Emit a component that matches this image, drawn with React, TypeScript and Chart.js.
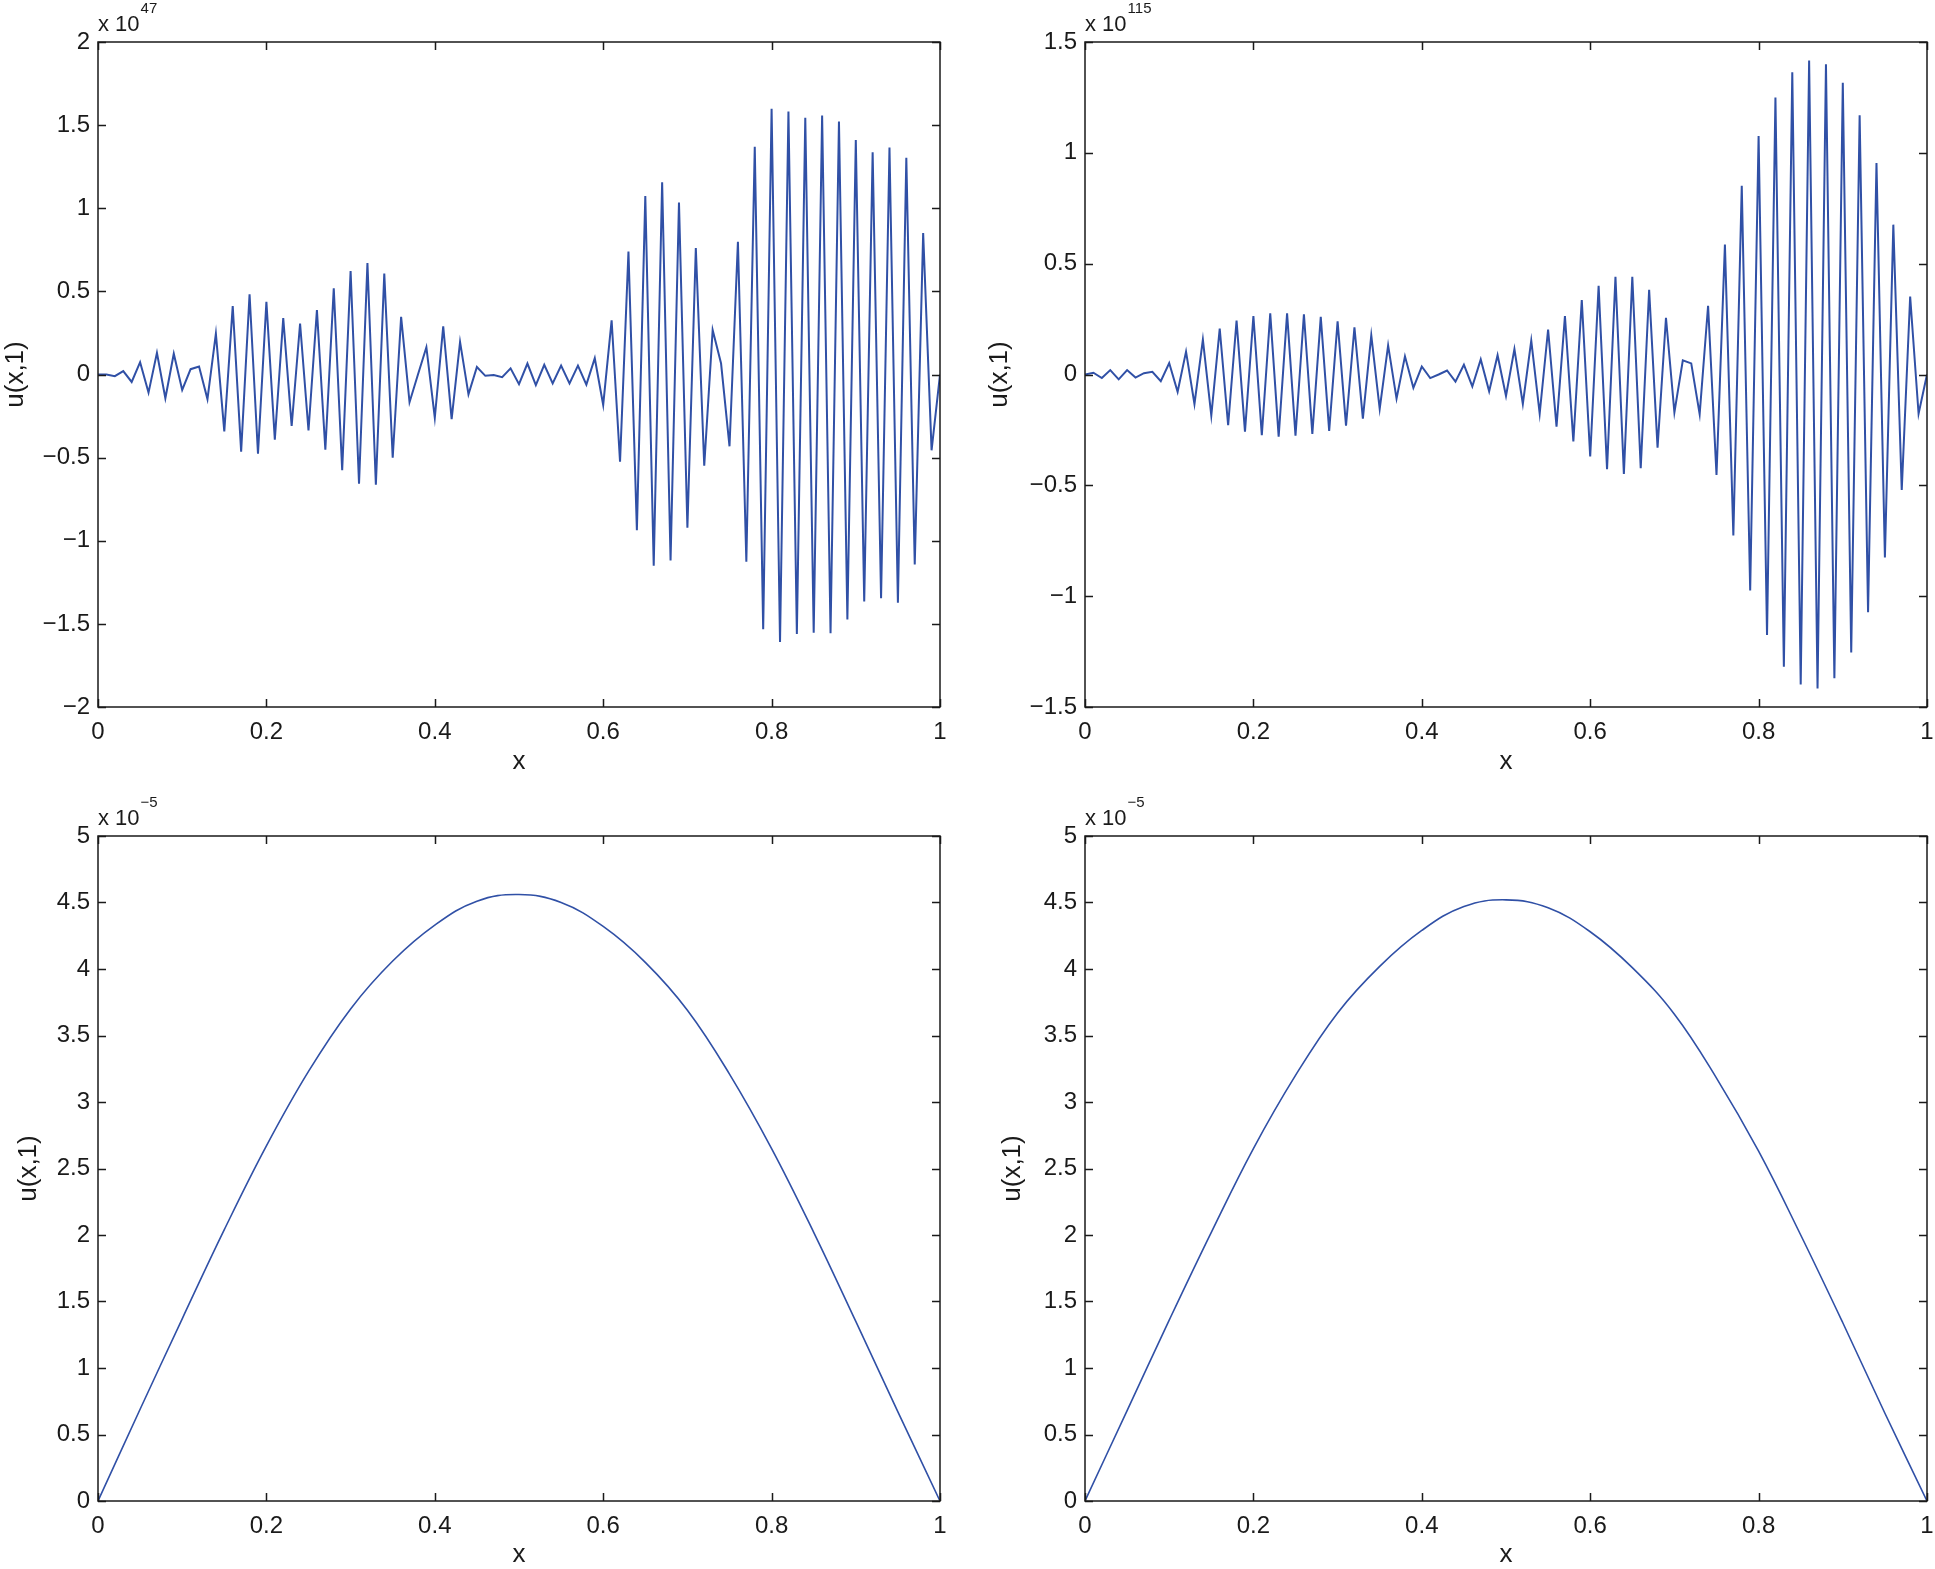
import React, { useEffect, useRef } from 'react';
import { Chart, registerables } from 'chart.js';

Chart.register(...registerables);

// ---------- data ----------
const xCoarse = [
  0, 0.01, 0.02, 0.03, 0.04, 0.05, 0.06, 0.07, 0.08, 0.09,
  0.1, 0.11, 0.12, 0.13, 0.14, 0.15, 0.16, 0.17, 0.18, 0.19,
  0.2, 0.21, 0.22, 0.23, 0.24, 0.25, 0.26, 0.27, 0.28, 0.29,
  0.3, 0.31, 0.32, 0.33, 0.34, 0.35, 0.36, 0.37, 0.38, 0.39,
  0.4, 0.41, 0.42, 0.43, 0.44, 0.45, 0.46, 0.47, 0.48, 0.49,
  0.5, 0.51, 0.52, 0.53, 0.54, 0.55, 0.56, 0.57, 0.58, 0.59,
  0.6, 0.61, 0.62, 0.63, 0.64, 0.65, 0.66, 0.67, 0.68, 0.69,
  0.7, 0.71, 0.72, 0.73, 0.74, 0.75, 0.76, 0.77, 0.78, 0.79,
  0.8, 0.81, 0.82, 0.83, 0.84, 0.85, 0.86, 0.87, 0.88, 0.89,
  0.9, 0.91, 0.92, 0.93, 0.94, 0.95, 0.96, 0.97, 0.98, 0.99,
  1,
];

// u(x,1) in units of 1e47
const uTopLeft = [
  0, 0, -0.01, 0.02, -0.045, 0.074, -0.109, 0.13, -0.143, 0.125,
  -0.093, 0.032, 0.048, -0.148, 0.246, -0.342, 0.411, -0.464, 0.482, -0.477,
  0.437, -0.392, 0.339, -0.31, 0.307, -0.337, 0.387, -0.453, 0.519, -0.575,
  0.623, -0.657, 0.671, -0.663, 0.607, -0.501, 0.347, -0.167, 0.0, 0.164,
  -0.26, 0.29, -0.268, 0.196, -0.119, 0.045, -0.008, -0.003, -0.016, 0.037,
  -0.058, 0.066, -0.064, 0.058, -0.053, 0.053, -0.053, 0.053, -0.061, 0.098,
  -0.183, 0.326, -0.525, 0.739, -0.936, 1.073, -1.15, 1.156, -1.118, 1.034,
  -0.922, 0.761, -0.549, 0.268, 0.066, -0.432, 0.798, -1.126, 1.37, -1.532,
  1.598, -1.609, 1.582, -1.561, 1.545, -1.553, 1.558, -1.556, 1.521, -1.474,
  1.41, -1.365, 1.336, -1.346, 1.365, -1.373, 1.304, -1.142, 0.851, -0.456,
  0,
];

// u(x,1) in units of 1e115
const uTopRight = [
  0, 0.008, -0.016, 0.02, -0.022, 0.02, -0.014, 0.006, 0.012, -0.03,
  0.052, -0.078, 0.103, -0.133, 0.157, -0.185, 0.207, -0.229, 0.243, -0.258,
  0.264, -0.274, 0.276, -0.28, 0.276, -0.276, 0.272, -0.268, 0.26, -0.254,
  0.24, -0.231, 0.213, -0.199, 0.177, -0.155, 0.131, -0.109, 0.082, -0.06,
  0.036, -0.016, 0.0, 0.018, -0.032, 0.044, -0.054, 0.068, -0.076, 0.087,
  -0.097, 0.115, -0.133, 0.153, -0.177, 0.203, -0.235, 0.264, -0.302, 0.336,
  -0.37, 0.4, -0.427, 0.441, -0.449, 0.441, -0.423, 0.382, -0.33, 0.256,
  -0.171, 0.064, 0.05, -0.179, 0.31, -0.453, 0.586, -0.726, 0.851, -0.974,
  1.076, -1.175, 1.25, -1.318, 1.364, -1.398, 1.416, -1.417, 1.4, -1.37,
  1.316, -1.254, 1.169, -1.072, 0.954, -0.825, 0.676, -0.521, 0.352, -0.177,
  0,
];

const xFine = [
  0, 0.05, 0.1, 0.15, 0.2, 0.25, 0.3, 0.35, 0.4, 0.45,
  0.5, 0.55, 0.6, 0.65, 0.7, 0.75, 0.8, 0.85, 0.9, 0.95, 1,
];

// u(x,1) in units of 1e-5
const uBottomLeft = [
  0, 0.69, 1.37, 2.04, 2.67, 3.23, 3.7, 4.06, 4.33, 4.51,
  4.56, 4.5, 4.32, 4.05, 3.69, 3.21, 2.65, 2.02, 1.35, 0.67, 0,
];
const uBottomRight = [
  0, 0.68, 1.36, 2.02, 2.65, 3.2, 3.67, 4.02, 4.29, 4.47,
  4.52, 4.46, 4.28, 4.01, 3.66, 3.18, 2.63, 2.0, 1.34, 0.66, 0,
];

const exponentLabels = ['47', '115', '\u22125', '\u22125'];
const xAxisLabel = 'x';
const yAxisLabel = 'u(x,1)';

// ---------- styling ----------
const FONT = "'Liberation Sans', Arial, Helvetica, sans-serif";
const INK = '#1a1a1a';
const LINE = '#3050a6';

type Panel = {
  left: number; top: number; width: number; height: number;
  pl: number; pt: number; pr: number; pb: number; wy: number; hx: number;
  yMin: number; yMax: number; exp: string;
  xs: number[]; ys: number[]; lineWidth: number; smooth: boolean; xTitlePad: number;
};

const panels: Panel[] = [
  { left: 0, top: 0, width: 970, height: 800, pl: 0, pt: 42, pr: 30, pb: 13, wy: 98, hx: 80,
    yMin: -2, yMax: 2, exp: exponentLabels[0], xs: xCoarse, ys: uTopLeft, lineWidth: 2, smooth: false, xTitlePad: 9.5 },
  { left: 970, top: 0, width: 965, height: 800, pl: 14, pt: 42, pr: 8, pb: 13, wy: 101, hx: 80,
    yMin: -1.5, yMax: 1.5, exp: exponentLabels[1], xs: xCoarse, ys: uTopRight, lineWidth: 2, smooth: false, xTitlePad: 9.5 },
  { left: 0, top: 790, width: 970, height: 781, pl: 13, pt: 46, pr: 30, pb: 0, wy: 85, hx: 70,
    yMin: 0, yMax: 5, exp: exponentLabels[2], xs: xFine, ys: uBottomLeft, lineWidth: 1.6, smooth: true, xTitlePad: 1 },
  { left: 970, top: 790, width: 965, height: 781, pl: 27, pt: 46, pr: 8, pb: 0, wy: 88, hx: 70,
    yMin: 0, yMax: 5, exp: exponentLabels[3], xs: xFine, ys: uBottomRight, lineWidth: 1.6, smooth: true, xTitlePad: 1 },
];

const fmt = (v: number) => {
  const r = Math.round(v * 1000) / 1000;
  return r < 0 ? '\u2212' + String(-r) : String(r);
};

function makeFramePlugin(exp: string) {
  return {
    id: 'matlabFrame',
    afterDraw(chart: any) {
      const { ctx, chartArea } = chart;
      const { left, top, right, bottom } = chartArea;
      const xs = chart.scales.x;
      const ys = chart.scales.y;
      const tl = 8;
      ctx.save();
      ctx.strokeStyle = INK;
      ctx.lineWidth = 1.5;
      ctx.beginPath();
      xs.ticks.forEach((t: any) => {
        const px = Math.round(xs.getPixelForValue(t.value)) + 0.5;
        ctx.moveTo(px, bottom); ctx.lineTo(px, bottom - tl);
        ctx.moveTo(px, top); ctx.lineTo(px, top + tl);
      });
      ys.ticks.forEach((t: any) => {
        const py = Math.round(ys.getPixelForValue(t.value)) + 0.5;
        ctx.moveTo(left, py); ctx.lineTo(left + tl, py);
        ctx.moveTo(right, py); ctx.lineTo(right - tl, py);
      });
      ctx.stroke();
      ctx.strokeRect(left, top, right - left, bottom - top);
      // exponent label
      ctx.fillStyle = INK;
      ctx.textBaseline = 'alphabetic';
      ctx.textAlign = 'left';
      ctx.font = `22px ${FONT}`;
      const base = 'x 10';
      ctx.fillText(base, left, top - 11.3);
      const w = ctx.measureText(base).width;
      ctx.font = `15px ${FONT}`;
      ctx.fillText(exp, left + w + 1, top - 28.7);
      ctx.restore();
    },
  };
}

function PanelChart({ p }: { p: Panel }) {
  const ref = useRef<HTMLCanvasElement | null>(null);
  useEffect(() => {
    if (!ref.current) return;
    const points = p.xs.map((x, i) => ({ x, y: p.ys[i] }));
    const chart = new Chart(ref.current, {
      type: 'line',
      data: {
        datasets: [{
          data: points,
          borderColor: LINE,
          borderWidth: p.lineWidth,
          pointRadius: 0,
          fill: false,
          tension: p.smooth ? 0.4 : 0,
          cubicInterpolationMode: 'default',
        } as any],
      },
      options: {
        animation: false,
        responsive: false,
        maintainAspectRatio: false,
        events: [],
        layout: { padding: { left: p.pl, top: p.pt, right: p.pr, bottom: p.pb } },
        plugins: { legend: { display: false }, tooltip: { enabled: false }, title: { display: false } },
        scales: {
          x: {
            type: 'linear',
            min: 0,
            max: 1,
            grid: { display: false, drawTicks: false },
            border: { display: false },
            ticks: {
              stepSize: 0.2,
              autoSkip: false,
              maxRotation: 0,
              padding: 11,
              color: INK,
              font: { family: FONT, size: 24 },
              callback: (v: any) => fmt(Number(v)),
            },
            title: {
              display: true,
              text: xAxisLabel,
              color: INK,
              font: { family: FONT, size: 26 },
              padding: { top: 0, bottom: p.xTitlePad },
            },
            afterFit: (s: any) => {
              s.height = p.hx;
              s.paddingLeft = 0; s.paddingRight = 0;
            },
          },
          y: {
            type: 'linear',
            min: p.yMin,
            max: p.yMax,
            grid: { display: false, drawTicks: false },
            border: { display: false },
            ticks: {
              stepSize: 0.5,
              padding: 8,
              color: INK,
              font: { family: FONT, size: 24 },
              callback: (v: any) => fmt(Number(v)),
            },
            title: {
              display: true,
              text: yAxisLabel,
              color: INK,
              font: { family: FONT, size: 26 },
              padding: { top: 0, bottom: 0 },
            },
            afterFit: (s: any) => {
              s.width = p.wy;
              s.paddingTop = 0; s.paddingBottom = 0;
            },
          },
        },
      } as any,
      plugins: [makeFramePlugin(p.exp)],
    });
    return () => chart.destroy();
  }, [p]);
  return (
    <canvas
      ref={ref}
      width={p.width}
      height={p.height}
      style={{ position: 'absolute', left: p.left, top: p.top, width: p.width, height: p.height }}
    />
  );
}

export default function App() {
  return (
    <div style={{ position: 'absolute', left: 0, top: 0, width: 1935, height: 1569, background: '#ffffff', overflow: 'hidden' }}>
      {panels.map((p, i) => (
        <PanelChart key={i} p={p} />
      ))}
    </div>
  );
}
